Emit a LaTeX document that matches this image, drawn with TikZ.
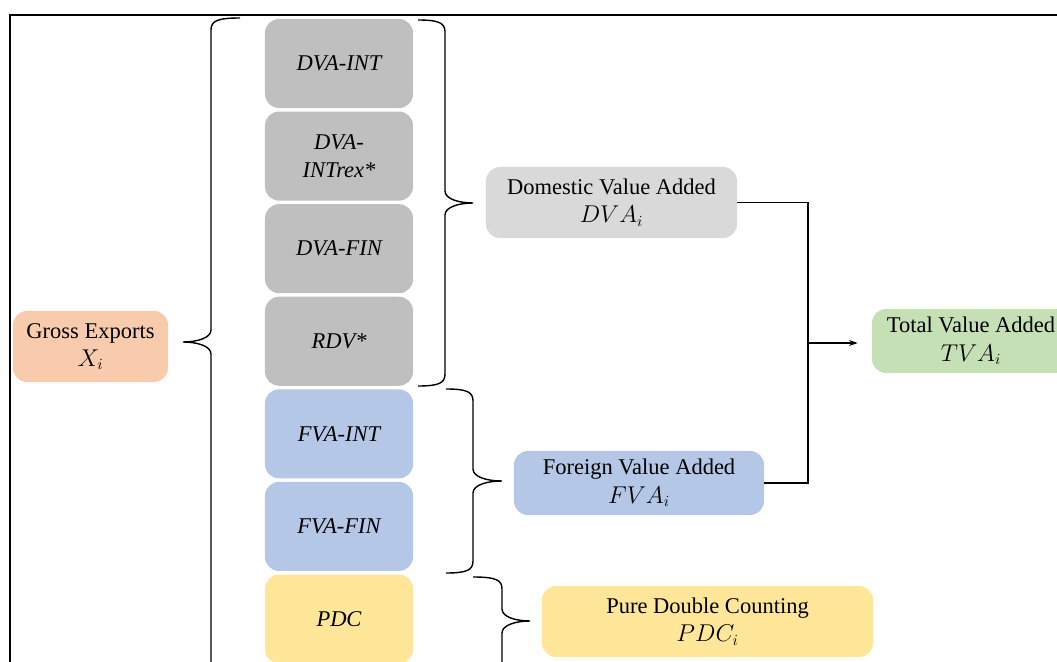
\documentclass[tikz,border=0pt]{standalone}
\usepackage{fontspec}
\setmainfont{Liberation Serif}
\usetikzlibrary{positioning,arrows.meta}

\definecolor{blkgray}{HTML}{BFBFBF}
\definecolor{dvagray}{HTML}{D9D9D9}
\definecolor{fvablue}{HTML}{B4C7E7}
\definecolor{pdcyellow}{HTML}{FFE699}
\definecolor{grossorange}{HTML}{F8CBAD}
\definecolor{tvagreen}{HTML}{C5E0B4}

\tikzset{
  box/.style={rounded corners=0.35cm, align=center, inner sep=2pt,
    font=\fontsize{16}{20}\selectfont},
  blk/.style={box, minimum width=3.7cm, minimum height=2.225cm,
    font=\fontsize{16}{20}\selectfont\itshape},
  brc/.style={line width=1pt},
  conn/.style={line width=1pt}
}

\begin{document}
\begin{tikzpicture}[x=0.025cm, y=-0.025cm]
   \useasboundingbox (0,0) rectangle (1057,662);
   \clip (0,0) rectangle (1057,662);

   % outer frame
   \draw[line width=1.2pt] (10,680) -- (10,15) -- (1080,15);

   % left column
   \node[box, fill=grossorange, minimum width=3.875cm, minimum height=1.775cm] (gross) at (90.5,346.5) {Gross Exports\\$X_i$};

   % stacked components
   \node[blk, fill=blkgray] (dvaint) at (339,63.5) {DVA-INT};
   \node[blk, fill=blkgray, below=0.075cm of dvaint] (dvarex) {DVA-\\INTrex*};
   \node[blk, fill=blkgray, below=0.075cm of dvarex] (dvafin) {DVA-FIN};
   \node[blk, fill=blkgray, below=0.075cm of dvafin] (rdv) {RDV*};
   \node[blk, fill=fvablue, below=0.075cm of rdv] (fvaint) {FVA-INT};
   \node[blk, fill=fvablue, below=0.075cm of fvaint] (fvafin) {FVA-FIN};
   \node[blk, fill=pdcyellow, below=0.075cm of fvafin] (pdcblk) {PDC};

   % aggregates
   \node[box, fill=dvagray, minimum width=6.275cm, minimum height=1.775cm] (dva) at (611.5,202.5) {Domestic Value Added\\$DVA_i$};
   \node[box, fill=fvablue, minimum width=6.25cm, minimum height=1.6cm] (fva) at (639,483) {Foreign Value Added\\$FVA_i$};
   \node[box, fill=pdcyellow, minimum width=8.275cm, minimum height=1.775cm] (pdc) at (707.5,621.5) {Pure Double Counting\\$PDC_i$};
   \node[box, fill=tvagreen, minimum width=4.95cm, minimum height=1.6cm] (tva) at (971,341) {Total Value Added\\$TVA_i$};

   % braces
   \draw[brc] (240,18) .. controls (217,18) and (211,21) .. (211,30) -- (211,330)
      .. controls (211,338) and (197,342) .. (183,342)
      .. controls (197,342) and (211,346) .. (211,354) -- (211,690);
   \draw[brc] (418,20) .. controls (439,20) and (445,23) .. (445,32) -- (445,191)
      .. controls (445,199) and (459,203) .. (473,203)
      .. controls (459,203) and (445,207) .. (445,215) -- (445,374)
      .. controls (445,383) and (439,386) .. (418,386);
   \draw[brc] (446,389) .. controls (467,389) and (473,392) .. (473,401) -- (473,469)
      .. controls (473,477) and (487,481) .. (502,481)
      .. controls (487,481) and (473,485) .. (473,493) -- (473,561)
      .. controls (473,570) and (467,573) .. (446,573);
   \draw[brc] (473,577) .. controls (496,577) and (502,580) .. (502,589) -- (502,609)
      .. controls (502,617) and (516,621) .. (530,621)
      .. controls (516,621) and (502,625) .. (502,633) -- (502,690);

   % connectors to total
   \coordinate (join) at (808,343);
   \draw[conn] (dva.east) -| (join);
   \draw[conn] (fva.east) -| (join);
   \draw[conn, -{Stealth[length=2.2mm, width=1.5mm]}, shorten >=0.35cm] (join) -- (join -| tva.west);

\end{tikzpicture}
\end{document}
